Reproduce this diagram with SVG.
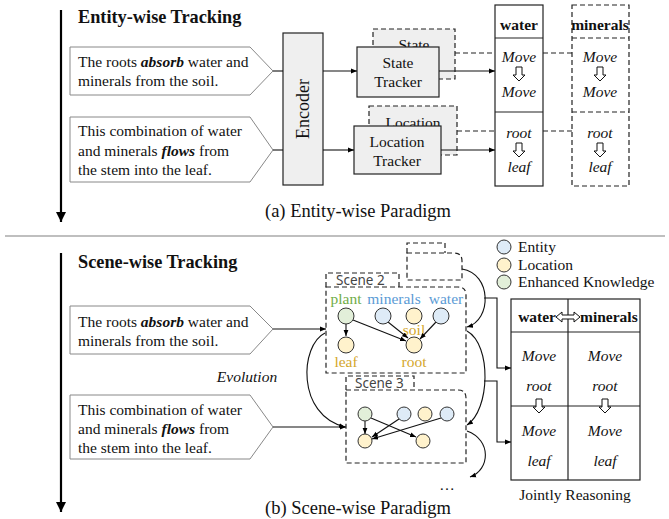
<svg xmlns="http://www.w3.org/2000/svg" width="669" height="519" viewBox="0 0 669 519">
<defs>
<marker id="ah" viewBox="0 0 10 10" refX="10" refY="5" markerWidth="6" markerHeight="6" orient="auto" markerUnits="userSpaceOnUse"><path d="M0,1 L10,5 L0,9 Z" fill="#000"/></marker>
<marker id="big" viewBox="0 0 10 10" refX="10" refY="5" markerWidth="10" markerHeight="10" orient="auto" markerUnits="userSpaceOnUse"><path d="M0,0 L10,5 L0,10 Z" fill="#000"/></marker>
<style>
text{font-family:"Liberation Serif","Times New Roman",serif;fill:#111}
.t{font-size:15.5px}
.h{font-size:18.3px;font-weight:bold}
.cap{font-size:18.5px}
.i{font-style:italic}
.b{font-weight:bold}
.bi{font-weight:bold;font-style:italic}
.c{text-anchor:middle}
.pent{fill:#fff;stroke:#888;stroke-width:1}
.box{fill:#efefef;stroke:#222;stroke-width:1.2}
.dbox{fill:#efefef;stroke:#222;stroke-width:1.2;stroke-dasharray:5,3}
.dl{fill:none;stroke:#222;stroke-width:1.2;stroke-dasharray:5,3}
.ln{fill:none;stroke:#111;stroke-width:1.1}
.col{fill:#fff;stroke:#222;stroke-width:1.2}
.hol{fill:#fff;stroke:#111;stroke-width:1}
.sc{font-family:"Noto Sans","Liberation Sans",sans-serif;font-size:13.5px;fill:#444}
.g{fill:#e2efd9;stroke:#333;stroke-width:1}
.bl{fill:#deebf7;stroke:#333;stroke-width:1}
.y{fill:#fff2cc;stroke:#333;stroke-width:1}
.tg{fill:#70ad47}
.tb{fill:#5b9bd5}
.ty{fill:#d4a72c}
</style>
</defs>

<!-- section A -->
<g id="timeline-a"><line x1="61" y1="10" x2="61" y2="222" stroke="#000" stroke-width="2.2" marker-end="url(#big)"/></g>
<text x="78" y="23" class="h">Entity-wise Tracking</text>

<g id="sent-a1">
<path class="pent" d="M70,47 H250 L273,71 L250,95 H70 Z"/>
<text x="78" y="67" class="t">The roots <tspan class="bi">absorb</tspan> water and</text>
<text x="78" y="86" class="t">minerals from the soil.</text>
</g>
<g id="sent-a2">
<path class="pent" d="M70,117 H250 L273,150 L250,182 H70 Z"/>
<text x="78" y="136" class="t">This combination of water</text>
<text x="78" y="156" class="t">and minerals <tspan class="bi">flows</tspan> from</text>
<text x="78" y="175" class="t">the stem into the leaf.</text>
</g>
<g id="encoder">
<rect class="box" x="283" y="33" width="40" height="152"/>
<text x="303" y="109" class="c" font-size="18" transform="rotate(-90 303 109)" dy="6">Encoder</text>
</g>
<g id="state-tracker">
<rect class="dbox" x="373" y="29" width="82" height="50"/>
<text x="414" y="50" class="t c">State</text>
<rect class="box" x="357" y="47" width="82" height="50"/>
<text x="398" y="68" class="t c">State</text>
<text x="398" y="87" class="t c">Tracker</text>
</g>
<g id="location-tracker">
<rect class="dbox" x="369" y="106" width="88" height="49"/>
<text x="413" y="128" class="t c">Location</text>
<rect class="box" x="354" y="126" width="87" height="48"/>
<text x="397" y="147" class="t c">Location</text>
<text x="397" y="166" class="t c">Tracker</text>
</g>
<g id="water-col">
<rect class="col" x="495" y="5" width="48" height="181"/>
<line x1="495" y1="38" x2="543" y2="38" stroke="#222" stroke-width="1.2"/>
<line x1="495" y1="112" x2="543" y2="112" stroke="#222" stroke-width="1.2"/>
<text x="519" y="30" class="t b c">water</text>
<text x="519" y="62" class="t i c">Move</text>
<polygon class="hol" points="516,67 522,67 522,75 525,75 519,81 513,75 516,75"/>
<text x="519" y="97" class="t i c">Move</text>
<text x="519" y="138" class="t i c">root</text>
<polygon class="hol" points="516,143 522,143 522,151 525,151 519,157 513,151 516,151"/>
<text x="519" y="172" class="t i c">leaf</text>
</g>
<g id="minerals-col">
<rect x="572" y="5" width="57" height="181" fill="#fff" stroke="#222" stroke-width="1.2" stroke-dasharray="5,3"/>
<line x1="572" y1="38" x2="629" y2="38" class="dl"/>
<line x1="572" y1="112" x2="629" y2="112" class="dl"/>
<text x="600" y="30" class="t b c">minerals</text>
<text x="600" y="62" class="t i c">Move</text>
<polygon class="hol" points="597,67 603,67 603,75 606,75 600,81 594,75 597,75"/>
<text x="600" y="97" class="t i c">Move</text>
<text x="600" y="138" class="t i c">root</text>
<polygon class="hol" points="597,143 603,143 603,151 606,151 600,157 594,151 597,151"/>
<text x="600" y="172" class="t i c">leaf</text>
</g>
<g id="connectors-a">
<line class="ln" x1="273" y1="71" x2="283" y2="71"/>
<line class="ln" x1="273" y1="150" x2="283" y2="150"/>
<line class="ln" x1="323" y1="71" x2="357" y2="71" marker-end="url(#ah)"/>
<line class="ln" x1="323" y1="150" x2="354" y2="150" marker-end="url(#ah)"/>
<line class="ln" x1="439" y1="71" x2="495" y2="71" marker-end="url(#ah)"/>
<line class="ln" x1="441" y1="150" x2="495" y2="150" marker-end="url(#ah)"/>
<line class="dl" x1="455" y1="53" x2="495" y2="53"/>
<line class="dl" x1="457" y1="131" x2="495" y2="131"/>
<line class="dl" x1="543" y1="53" x2="572" y2="53"/>
<line class="dl" x1="543" y1="131" x2="572" y2="131"/>
</g>
<text x="358" y="217" class="cap c">(a) Entity-wise Paradigm</text>

<line x1="5" y1="236" x2="665" y2="236" stroke="#aaa" stroke-width="1.5"/>

<!-- section B -->
<g id="timeline-b"><line x1="61" y1="253" x2="61" y2="512" stroke="#000" stroke-width="2.2" marker-end="url(#big)"/></g>
<text x="78" y="268" class="h">Scene-wise Tracking</text>

<g id="sent-b1">
<path class="pent" d="M70,306 H250 L273,329 L250,354 H70 Z"/>
<text x="78" y="327" class="t">The roots <tspan class="bi">absorb</tspan> water and</text>
<text x="78" y="346" class="t">minerals from the soil.</text>
</g>
<g id="sent-b2">
<path class="pent" d="M70,395 H250 L273,427 L250,459 H70 Z"/>
<text x="78" y="415" class="t">This combination of water</text>
<text x="78" y="434" class="t">and minerals <tspan class="bi">flows</tspan> from</text>
<text x="78" y="453" class="t">the stem into the leaf.</text>
</g>
<text x="247" y="382" class="t i c">Evolution</text>

<g id="scene-1">
<path class="dl" d="M407,253 V243 H445 V253"/>
<path class="dl" d="M407,253 H454 Q462,253 462,261 V280 H407 Z"/>
</g>

<g id="scene-2">
<path class="dl" d="M326,287 V273 H399 V287"/>
<text x="336" y="285" class="sc">Scene 2</text>
<path class="dl" d="M326,287 H458 Q466,287 466,295 V373 H326 Z"/>
<text x="346" y="304" class="t c tg">plant</text>
<text x="394" y="304" class="t c tb">minerals</text>
<text x="446" y="304" class="t c tb">water</text>
<text x="414" y="335" class="t c ty">soil</text>
<text x="346" y="367" class="t c ty">leaf</text>
<text x="414" y="367" class="t c ty">root</text>
<line class="ln" x1="346" y1="324" x2="346" y2="336" marker-end="url(#ah)"/>
<line class="ln" x1="353" y1="320" x2="406" y2="341" marker-end="url(#ah)"/>
<line class="ln" x1="388" y1="322" x2="408" y2="338" marker-end="url(#ah)"/>
<line class="ln" x1="436" y1="322" x2="420" y2="339" marker-end="url(#ah)"/>
<circle class="g" cx="346" cy="316" r="8"/>
<circle class="bl" cx="383" cy="316" r="8"/>
<circle class="y" cx="414" cy="316" r="8"/>
<circle class="bl" cx="441" cy="316" r="8"/>
<circle class="y" cx="346" cy="345" r="8"/>
<circle class="y" cx="414" cy="345" r="8"/>
</g>

<g id="scene-3">
<path class="dl" d="M346,390 V376 H414 V390"/>
<text x="355" y="388" class="sc">Scene 3</text>
<path class="dl" d="M346,390 H458 Q466,390 466,398 V463 H346 Z"/>
<line class="ln" x1="365" y1="421" x2="365" y2="434" marker-end="url(#ah)"/>
<line class="ln" x1="371" y1="418" x2="416" y2="437" marker-end="url(#ah)"/>
<line class="ln" x1="399" y1="419" x2="372" y2="437" marker-end="url(#ah)"/>
<line class="ln" x1="441" y1="418" x2="372" y2="439" marker-end="url(#ah)"/>
<circle class="g" cx="365" cy="414" r="7"/>
<circle class="bl" cx="404" cy="414" r="7"/>
<circle class="y" cx="425" cy="414" r="7"/>
<circle class="bl" cx="447" cy="414" r="7"/>
<circle class="y" cx="365" cy="441" r="7"/>
<circle class="y" cx="423" cy="441" r="7"/>
</g>
<text x="447" y="490" class="t c">…</text>

<g id="legend">
<circle class="bl" cx="504" cy="247" r="7"/>
<text x="518" y="252" class="t">Entity</text>
<circle class="y" cx="504" cy="265" r="7"/>
<text x="518" y="270" class="t">Location</text>
<circle class="g" cx="504" cy="282" r="7"/>
<text x="518" y="287" class="t">Enhanced Knowledge</text>
</g>

<g id="joint-table">
<rect class="col" x="511" y="299" width="129" height="181"/>
<line x1="568" y1="299" x2="568" y2="480" stroke="#222" stroke-width="1.2"/>
<line x1="511" y1="332" x2="640" y2="332" stroke="#222" stroke-width="1.2"/>
<line x1="511" y1="406" x2="640" y2="406" stroke="#222" stroke-width="1.2"/>
<text x="556" y="322" class="t b" text-anchor="end">water</text>
<text x="580" y="322" class="t b">minerals</text>
<polygon class="hol" points="556,317 562,312 562,315 574,315 574,312 580,317 574,322 574,319 562,319 562,322"/>
<text x="539" y="361" class="t i c">Move</text>
<text x="539" y="391" class="t i c">root</text>
<text x="539" y="436" class="t i c">Move</text>
<text x="539" y="466" class="t i c">leaf</text>
<text x="605" y="361" class="t i c">Move</text>
<text x="605" y="391" class="t i c">root</text>
<text x="605" y="436" class="t i c">Move</text>
<text x="605" y="466" class="t i c">leaf</text>
<polygon class="hol" points="536,399 542,399 542,407 545,407 539,413 533,407 536,407"/>
<polygon class="hol" points="602,399 608,399 608,407 611,407 605,413 599,407 602,407"/>
</g>
<text x="575" y="500" class="t c">Jointly Reasoning</text>

<g id="connectors-b">
<line class="ln" x1="273" y1="329" x2="326" y2="329" marker-end="url(#ah)"/>
<line class="ln" x1="273" y1="427" x2="346" y2="427" marker-end="url(#ah)"/>
<path class="ln" d="M325,333 C300,345 296,415 345,427" marker-end="url(#ah)"/>
<path class="ln" d="M462,269 C492,274 492,320 467,327" marker-end="url(#ah)"/>
<path class="ln" d="M467,331 C492,345 490,410 467,425" marker-end="url(#ah)"/>
<path class="ln" d="M467,431 C492,440 490,470 470,477" marker-end="url(#ah)"/>
<path class="ln" d="M484,298 H497 V368 H511" marker-end="url(#ah)"/>
<path class="ln" d="M484,381 H497 V442 H511" marker-end="url(#ah)"/>
</g>
<text x="358" y="514" class="cap c">(b) Scene-wise Paradigm</text>
</svg>
